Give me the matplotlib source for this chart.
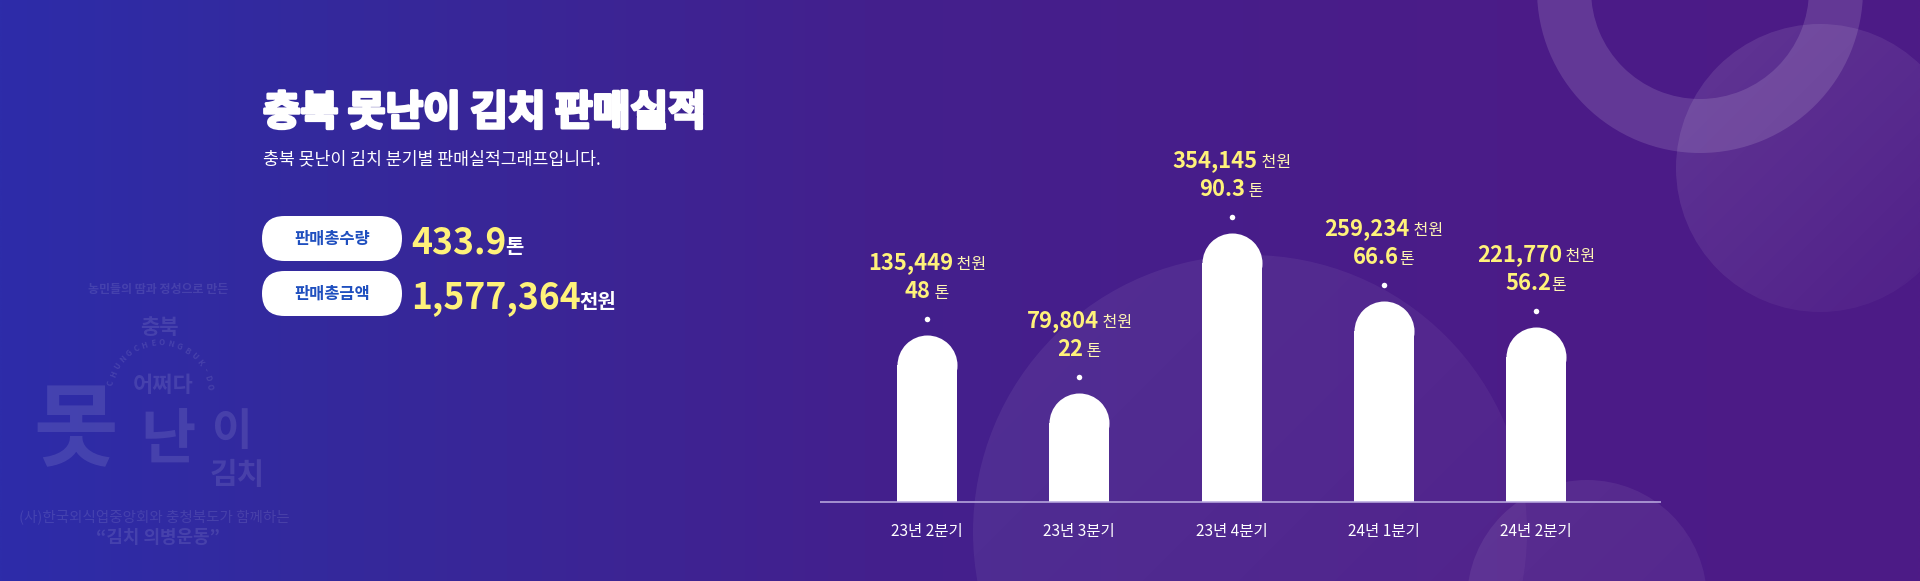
import numpy as np
import matplotlib
matplotlib.use("Agg")
import matplotlib.pyplot as plt
import matplotlib.patheffects as pe
from matplotlib.patches import Circle, FancyBboxPatch, Wedge
from matplotlib.transforms import ScaledTranslation
from matplotlib.colors import to_rgb

# ---------------- data ----------------
quarters = ["23년 2분기", "23년 3분기", "23년 4분기", "24년 1분기", "24년 2분기"]
sales_thousand_won = [135449, 79804, 354145, 259234, 221770]
tons = [48, 22, 90.3, 66.6, 56.2]
ton_units = [" 톤", " 톤", " 톤", "톤", "톤"]
bar_levels = [167, 109, 269, 201, 175]   # drawn bar heights
total_tons = "433.9"
total_amount = "1,577,364"
title = "충북 못난이 김치 판매실적"
subtitle = "충북 못난이 김치 분기별 판매실적그래프입니다."
badge_labels = ["판매총수량", "판매총금액"]
badge_values = [total_tons, total_amount]
badge_units = ["톤", "천원"]

FAM = ["Noto Sans CJK KR", "DejaVu Sans"]
plt.rcParams["font.family"] = FAM

W, H, DPI = 1920, 581, 100
PX = 0.72  # points per pixel
YELLOW = "#fff27a"
UNIT_YELLOW = "#fff6b4"

fig = plt.figure(figsize=(W / DPI, H / DPI), dpi=DPI)

# ---------------- background (pixel coordinates) ----------------
bg = fig.add_axes([0, 0, 1, 1])
bg.set_xlim(0, W)
bg.set_ylim(H, 0)
bg.axis("off")

stops = [(0.0, "#2d2ca9"), (0.17, "#34299c"), (0.45, "#43208d"), (0.78, "#4b1c88"), (1.0, "#4d1b86")]
xs = np.linspace(0, 1, 400)
cols = np.zeros((1, 400, 3))
sp = [s[0] for s in stops]
for c in range(3):
    cols[0, :, c] = np.interp(xs, sp, [to_rgb(s[1])[c] for s in stops])
grad = np.repeat(cols, 2, axis=0)
bg.imshow(grad, extent=[0, W, H, 0], aspect="auto", zorder=0, interpolation="bilinear")


def grad_circle(cx, cy, r, a0, a1):
    n = 200
    gx = np.linspace(cx - r, cx + r, n)
    gy = np.linspace(cy - r, cy + r, n)
    X, Y = np.meshgrid(gx, gy)
    d = ((X - (cx - r)) + (Y - (cy - r))) / (4 * r)
    img = np.ones((n, n, 4))
    img[..., 3] = a0 + (a1 - a0) * d
    im = bg.imshow(img, extent=[cx - r, cx + r, cy + r, cy - r], origin="upper",
                   aspect="auto", zorder=1, interpolation="bilinear")
    im.set_clip_path(Circle((cx, cy), r, transform=bg.transData))


grad_circle(1250, 532, 277, 0.075, 0.03)
grad_circle(1820, 168, 144, 0.12, 0.02)
grad_circle(1587, 600, 120, 0.08, 0.05)
bg.add_patch(Wedge((1700, -10), 163, 0, 360, width=54, facecolor="white", alpha=0.13,
                   lw=0, zorder=1))
bg.set_xlim(0, W)
bg.set_ylim(H, 0)

# ---------------- watermark logo ----------------
wm = dict(color="white", alpha=0.11, ha="center", va="center", zorder=2)
bg.text(158, 290, "농민들의 땀과 정성으로 만든", fontsize=12 * PX, fontweight="bold", **wm)
bg.text(159, 327, "충북", fontsize=21 * PX, fontweight="bold", **wm)
arc = "CHUNGCHEONGBUK-DO"
for i, ch in enumerate(arc):
    th = np.radians(-78 + 161 * i / (len(arc) - 1))
    bg.text(160 + 50 * np.sin(th), 393 - 50 * np.cos(th), ch, fontsize=8 * PX,
            rotation=-np.degrees(th), fontweight="bold", **wm)
bg.text(163, 386, "어쩌다", fontsize=22 * PX, fontweight="bold", **wm)
bg.text(76, 432, "못", fontsize=92 * PX, fontweight="bold", **wm)
bg.text(168, 440, "난", fontsize=60 * PX, fontweight="bold", **wm)
bg.text(232, 432, "이", fontsize=44 * PX, fontweight="bold", **wm)
bg.text(237, 475, "김치", fontsize=30 * PX, fontweight="bold", **wm)
bg.text(154, 517, "(사)한국외식업중앙회와 충청북도가 함께하는", fontsize=14.5 * PX, **wm)
bg.text(158, 538, "\u201c김치 의병운동\u201d", fontsize=18 * PX, fontweight="bold", **wm)

# ---------------- title block ----------------
bg.text(263, 125, title, fontsize=41 * PX, fontweight="black", color="white",
        ha="left", va="baseline", zorder=3,
        path_effects=[pe.withStroke(linewidth=2.2, foreground="white")])
bg.text(263, 164, subtitle, fontsize=17.3 * PX, color="white", ha="left",
        va="baseline", zorder=3)

renderer = fig.canvas.get_renderer()


def text_width(t):
    return t.get_window_extent(renderer).width


for i, (lab, val, unit) in enumerate(zip(badge_labels, badge_values, badge_units)):
    top = 216 + 55 * i
    bg.add_patch(FancyBboxPatch((262, top), 140, 45,
                                boxstyle="round,pad=0,rounding_size=22.5",
                                facecolor="white", edgecolor="none", zorder=3))
    bg.text(332, top + 23, lab, fontsize=16.5 * PX, fontweight="bold", color="#1f4fbf",
            ha="center", va="center", zorder=4)
    base = top + 37
    tv = bg.text(411, base, val, fontsize=35.5 * PX, fontweight="bold", color=YELLOW,
                 ha="left", va="baseline", zorder=4)
    w = text_width(tv)
    bg.text(411 + w - 1, base, unit, fontsize=20 * PX, fontweight="bold", color="white",
            ha="left", va="baseline", zorder=4)

# ---------------- bar chart ----------------
x0_px, x1_px, base_px = 820, 1661, 502
first_c, last_c = 927, 1536
step = (last_c - first_c) / (len(quarters) - 1)
ax = fig.add_axes([x0_px / W, (H - base_px) / H, (x1_px - x0_px) / W, base_px / H])
ax.set_xlim(-(first_c - x0_px) / step, (len(quarters) - 1) + (x1_px - last_c) / step)
ax.set_ylim(0, base_px)
ax.axis("off")
ax.patch.set_alpha(0)

xpos = np.arange(len(quarters))
bar_w_px = 60
r = bar_w_px / 2
bw = bar_w_px / step
levels = np.array(bar_levels, dtype=float)
ax.bar(xpos, levels - r, width=bw, color="white", linewidth=0, zorder=3)
ax.scatter(xpos, levels - r, s=(bar_w_px * PX) ** 2, color="white", linewidths=0,
           zorder=3)
dot_y = levels + 16
ax.scatter(xpos, dot_y, s=(5.5 * PX) ** 2, color="white", linewidths=0, zorder=4)
ax.plot([ax.get_xlim()[0], ax.get_xlim()[1]], [0, 0], color="#b9a9df", lw=1.6 * PX,
        clip_on=False, zorder=4, solid_capstyle="butt")


def pair_label(x, y, main, unit, main_px, unit_px, main_color, unit_color, unit_weight):
    t1 = ax.text(x, y, main, fontsize=main_px * PX, fontweight="bold", color=main_color,
                 ha="left", va="baseline", zorder=5, clip_on=False)
    t2 = ax.text(x, y, unit, fontsize=unit_px * PX, fontweight=unit_weight,
                 color=unit_color, ha="left", va="baseline", zorder=5, clip_on=False)
    w1, w2 = text_width(t1), text_width(t2)
    tot = w1 + w2
    t1.set_transform(ax.transData + ScaledTranslation(-tot / 2 / DPI, 0, fig.dpi_scale_trans))
    t2.set_transform(ax.transData + ScaledTranslation((-tot / 2 + w1) / DPI, 0,
                                                      fig.dpi_scale_trans))


for xi, amt, tn, tu, dy in zip(xpos, sales_thousand_won, tons, ton_units, dot_y):
    pair_label(xi, dy + 50, f"{amt:,}", " 천원", 22, 16, YELLOW, UNIT_YELLOW, "medium")
    pair_label(xi, dy + 21, f"{tn:g}", tu, 22, 16, YELLOW, UNIT_YELLOW, "medium")

for xi, q in zip(xpos, quarters):
    ax.text(xi, -34, q, fontsize=15.5 * PX, fontweight="medium", color="white",
            ha="center", va="baseline", zorder=5, clip_on=False)

fig.savefig("out.png", dpi=DPI)
